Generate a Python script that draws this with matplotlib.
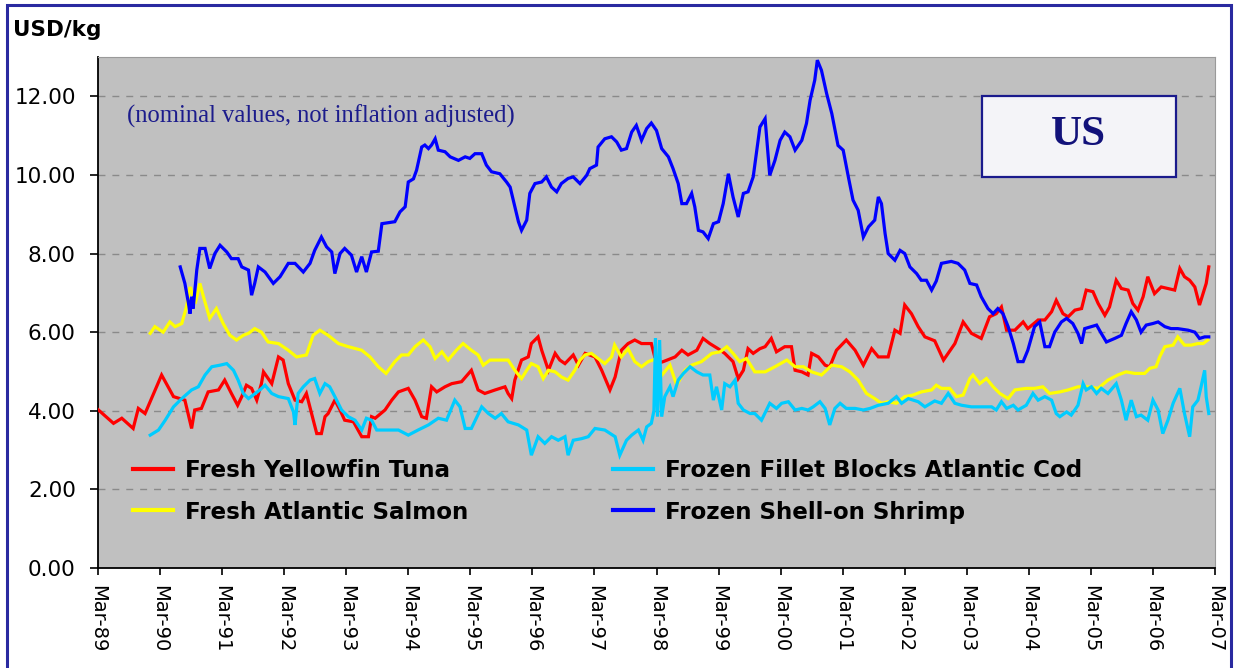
import matplotlib
matplotlib.use("Agg")
import matplotlib.pyplot as plt
from matplotlib.patches import Rectangle
from matplotlib.lines import Line2D

# ---- data (x = months after Mar-89) ----
tick_labels = ["Mar-89", "Mar-90", "Mar-91", "Mar-92", "Mar-93", "Mar-94", "Mar-95",
               "Mar-96", "Mar-97", "Mar-98", "Mar-99", "Mar-00", "Mar-01", "Mar-02",
               "Mar-03", "Mar-04", "Mar-05", "Mar-06", "Mar-07"]
y_ticks = [0, 2, 4, 6, 8, 10, 12]

tuna_m = [0, 3, 4.6, 6.8, 7.8, 9.1, 12.3, 14.6, 16.8, 18.1, 18.7, 20, 21.3, 23.3, 24.5, 25.8, 27, 27.8,
          28.7, 29.7, 30.7, 31.6, 32, 33.6, 34.9, 35.8, 36.8, 38.1, 39.4, 40.3, 41.3, 42.3, 43.2, 43.9,
          44.5, 45.8, 46.8, 47.7, 49.4, 51, 52.3, 52.9, 53.6, 55.5, 56.8, 58.1, 60, 61.3, 62.6, 63.5,
          64.5, 65.5, 67.1, 68.4, 70.3, 72.2, 73.5, 74.8, 76.8, 78.7, 79.3, 80, 80.6, 81.9, 83.2, 83.8,
          85.1, 85.8, 87.1, 88.4, 89.3, 90.3, 91.9, 92.9, 94.2, 96.1, 97.4, 99, 100, 101.2, 102.5, 103.8,
          105.1, 107, 108, 109.3, 111.6, 112.9, 114.1, 115.8, 117, 118.3, 119.9, 121.2, 122.8, 123.8,
          124.8, 125.7, 126.7, 128, 129, 130.2, 131.2, 132.8, 134.1, 134.8, 136.1, 137.3, 138, 139.3,
          140.6, 141.5, 142.8, 144.7, 146.4, 148, 149.6, 150.9, 152.8, 154.1, 155.1, 156, 157.3, 158.6,
          159.9, 161.8, 163.5, 165.7, 167.3, 168.9, 170.8, 172.4, 173.7, 174.7, 175.7, 177.3, 178.9,
          179.8, 181.8, 183.1, 184.4, 185.3, 186.6, 187.6, 188.9, 190.2, 191.1, 192.4, 193.4, 194.7,
          195.6, 196.9, 197.9, 199.2, 200.1, 201.1, 202.1, 203, 204.3, 205.6, 206.9, 208.2, 209.2,
          210.1, 211.1, 212.1, 213, 214.3, 214.8]
tuna_v = [4.03, 3.68, 3.81, 3.55, 4.06, 3.93, 4.91, 4.36, 4.27, 3.55, 4.02, 4.06, 4.48, 4.53, 4.78, 4.44,
          4.14, 4.36, 4.65, 4.57, 4.27, 4.69, 4.99, 4.69, 5.37, 5.29, 4.69, 4.27, 4.23, 4.44, 3.93, 3.42,
          3.42, 3.85, 3.93, 4.27, 4.02, 3.76, 3.72, 3.34, 3.34, 3.85, 3.81, 4.02, 4.27, 4.48, 4.57, 4.27,
          3.85, 3.81, 4.61, 4.48, 4.61, 4.69, 4.74, 5.03, 4.53, 4.44, 4.53, 4.61, 4.44, 4.31, 4.78, 5.29,
          5.37, 5.71, 5.88, 5.54, 5.03, 5.46, 5.29, 5.2, 5.42, 5.16, 5.46, 5.37, 5.03, 4.53, 4.86, 5.54,
          5.71, 5.8, 5.71, 5.71, 5.2, 5.25, 5.37, 5.54, 5.42, 5.54, 5.84, 5.71, 5.58, 5.46, 5.25, 4.82,
          5.03, 5.58, 5.46, 5.58, 5.63, 5.84, 5.5, 5.63, 5.63, 5.03, 4.99, 4.91, 5.46, 5.37, 5.16, 5.12,
          5.54, 5.8, 5.54, 5.16, 5.58, 5.37, 5.37, 6.05, 5.97, 6.69, 6.47, 6.14, 5.88, 5.78, 5.29, 5.71,
          6.26, 5.97, 5.84, 6.39, 6.47, 6.64, 6.05, 6.05, 6.26, 6.09, 6.31, 6.31, 6.52, 6.81, 6.47, 6.39,
          6.56, 6.6, 7.07, 7.03, 6.73, 6.43, 6.64, 7.32, 7.11, 7.07, 6.73, 6.56, 6.9, 7.41, 6.98, 7.15,
          7.11, 7.07, 7.62, 7.41, 7.32, 7.15, 6.69, 7.24, 7.66]

salmon_m = [10.1, 11, 12.6, 13.9, 14.9, 16.2, 17.1, 17.8, 18.8, 19.7, 20.4, 21.6, 22.9, 24.2, 25.5, 26.8,
            28.1, 29.1, 30.3, 31.6, 32.9, 34.9, 36.8, 38.4, 40.3, 41.6, 42.9, 44.5, 46.5, 48.4, 51, 52.6,
            54.2, 55.7, 57.4, 58.7, 60, 61.3, 62.9, 64.2, 65.2, 66.5, 67.7, 69.3, 70.6, 72.2, 73.5, 74.5,
            75.8, 77.4, 79.3, 80.6, 81.9, 82.9, 83.8, 85.1, 86.1, 87.1, 88.4, 89.6, 90.9, 92.2, 93.2, 94.2,
            95.4, 96.7, 98, 99.3, 99.9, 101.2, 102.5, 103.8, 105.1, 106.4, 107.7, 109, 110.6, 111.9, 113.5,
            114.8, 116.7, 118.7, 120.3, 121.6, 122.8, 124.1, 125.4, 127, 129, 130.9, 133.2, 134.8, 136.4,
            138, 139.9, 141.9, 143.8, 145.4, 147, 148.6, 150.2, 151.5, 152.8, 154.4, 156, 157.6, 159.2,
            161.2, 162.1, 163.1, 164.7, 166, 167.3, 168.6, 169.2, 170.5, 171.8, 173.1, 174.4, 176, 177.3,
            179.5, 181.1, 182.7, 184, 186, 187.6, 189.5, 191.4, 193.4, 195.3, 197.2, 198.8, 200.5, 202.4,
            203.4, 204.6, 205.3, 206.3, 207.9, 208.8, 210.1, 211.4, 212.7, 213.7, 214.6]
salmon_v = [5.97, 6.14, 6.0, 6.26, 6.14, 6.22, 6.64, 7.15, 6.73, 7.24, 6.9, 6.35, 6.6, 6.22, 5.92, 5.8,
            5.92, 5.97, 6.09, 6.0, 5.75, 5.71, 5.54, 5.37, 5.42, 5.92, 6.05, 5.92, 5.71, 5.63, 5.54, 5.37,
            5.12, 4.95, 5.25, 5.42, 5.42, 5.63, 5.8, 5.63, 5.33, 5.5, 5.29, 5.54, 5.71, 5.54, 5.42, 5.16,
            5.29, 5.29, 5.29, 5.03, 4.82, 5.03, 5.2, 5.12, 4.82, 5.03, 4.99, 4.86, 4.78, 5.03, 5.29, 5.42,
            5.46, 5.33, 5.2, 5.37, 5.67, 5.37, 5.58, 5.25, 5.12, 5.25, 5.31, 4.9, 5.16, 4.65, 5.03,
            5.16, 5.25, 5.46, 5.5, 5.63, 5.46, 5.25, 5.33, 4.99, 4.99, 5.12, 5.29, 5.12, 5.12,
            4.99, 4.91, 5.16, 5.12, 4.99, 4.78, 4.44, 4.31, 4.19, 4.23, 4.19, 4.36, 4.4, 4.48,
            4.53, 4.65, 4.57, 4.57, 4.36, 4.4, 4.82, 4.91, 4.69, 4.82, 4.61, 4.44, 4.31, 4.53,
            4.57, 4.57, 4.61, 4.44, 4.48, 4.53, 4.61, 4.61, 4.57, 4.78, 4.91, 4.99, 4.95, 4.95,
            5.08, 5.12, 5.37, 5.63, 5.67, 5.88, 5.67, 5.67, 5.71, 5.71, 5.8]

cod_m = [10.1, 11.7, 13, 14.6, 16.2, 18.1, 19.4, 20.7, 22, 23.6, 24.9, 26.2, 27.1, 28.1, 29.1, 30, 31.3,
         32.3, 33.6, 34.9, 36.8, 37.8, 38.1, 38.7, 39.7, 41, 41.9, 42.9, 43.9, 44.8, 45.8, 47.1, 48.4,
         49.7, 51, 51.9, 52.9, 53.9, 56.1, 58.1, 60, 61.9, 63.9, 65.8, 67.4, 69, 70, 71, 72.2, 74.2,
         75.5, 76.8, 78, 79.3, 81.3, 82.9, 83.8, 85.1, 86.4, 87.7, 89, 90.3, 90.9, 91.9, 93.5, 94.8,
         96.1, 98, 100, 100.9, 102.2, 103.2, 104.5, 105.4, 106.1, 107, 107.5, 107.8, 108.2, 108.6, 109.0,
         109.6, 110.6, 111.2, 112.2, 113.2, 114.5, 115.8, 117, 118.3, 119, 119.6, 120.6, 121.2, 122.2,
         123.2, 123.8, 124.8, 126.1, 127, 128.3, 129.9, 131.2, 132.2, 133.5, 134.8, 136.1, 137.3, 138.3,
         139.6, 140.6, 141.5, 142.5, 143.5, 144.7, 146.4, 148, 149.3, 150.9, 152.8, 154.4, 155.4, 156.7,
         158.6, 159.9, 161.8, 163.1, 164.4, 165.7, 167, 168.9, 170.8, 172.8, 173.7, 174.7, 175.7, 177,
         177.9, 179.5, 180.8, 181.8, 183.1, 184.4, 185.3, 186, 187.3, 188.2, 189.5, 190.5, 191.1, 192.1,
         193.1, 194, 195.3, 196.9, 197.9, 198.8, 199.8, 200.8, 201.7, 203, 204, 205, 205.9, 206.9, 207.9,
         209.2, 210.1, 211.1, 211.7, 212.7, 213.3, 214, 214.3, 214.8]
cod_v = [3.38, 3.51, 3.76, 4.1, 4.31, 4.53, 4.61, 4.91, 5.12, 5.16, 5.2, 5.03, 4.78, 4.44, 4.31, 4.4, 4.53,
         4.65, 4.44, 4.36, 4.31, 3.97, 3.64, 4.44, 4.61, 4.78, 4.82, 4.44, 4.69, 4.61, 4.36, 4.02, 3.85,
         3.76, 3.51, 3.81, 3.76, 3.51, 3.51, 3.51, 3.38, 3.51, 3.64, 3.81, 3.76, 4.27, 4.1, 3.55, 3.55, 4.1,
         3.93, 3.81, 3.93, 3.72, 3.64, 3.51, 2.87, 3.34, 3.17, 3.34, 3.25, 3.34, 2.87, 3.25, 3.29, 3.34,
         3.55, 3.51, 3.34, 2.87, 3.25, 3.38, 3.51, 3.25, 3.59, 3.68, 4.0, 5.85, 3.85, 5.8, 3.85,
         4.36, 4.61, 4.36, 4.78, 4.95, 5.12, 4.99, 4.91, 4.91, 4.27, 4.61, 4.02, 4.69, 4.61,
         4.78, 4.19, 4.02, 3.93, 3.93, 3.76, 4.19, 4.06, 4.19, 4.23, 4.02, 4.06, 4.02, 4.1,
         4.23, 4.06, 3.64, 4.06, 4.19, 4.06, 4.06, 4.02, 4.06, 4.14, 4.19, 4.36, 4.19, 4.31,
         4.23, 4.1, 4.25, 4.19, 4.44, 4.19, 4.14, 4.1, 4.1, 4.1, 4.02, 4.23, 4.06, 4.14,
         4.02, 4.14, 4.44, 4.27, 4.36, 4.27, 3.93, 3.85, 3.97, 3.89, 4.14, 4.69, 4.53, 4.61,
         4.44, 4.57, 4.44, 4.69, 4.27, 3.76, 4.27, 3.85, 3.89, 3.76, 4.27, 4.02, 3.42, 3.76, 4.19,
         4.57, 3.93, 3.34, 4.1, 4.27, 4.61, 5.03, 4.36, 3.93]

shrimp_m = [15.9, 16.8, 17.5, 17.8, 18.1, 18.4, 19.1, 19.7, 20.7, 21.6, 22.6, 23.6, 24.9, 25.8, 27.1, 27.8,
            29.1, 29.7, 30.3, 31, 32.3, 33.9, 35.2, 36.8, 38.1, 39.7, 41, 41.9, 43.2, 44.2, 45.2, 45.8,
            46.8, 47.7, 49, 50, 51, 51.9, 52.9, 54.2, 54.9, 57.4, 58.4, 59.4, 60, 61, 61.6, 62.6, 63.2,
            63.9, 64.5, 65.2, 65.8, 67.1, 68.1, 69.7, 71, 71.9, 72.9, 74.2, 75.1, 76.1, 77.7, 79, 79.7,
            80.6, 81.3, 81.9, 82.9, 83.5, 84.5, 85.8, 86.7, 87.7, 88.7, 89.6, 90.9, 91.9, 93.2, 94.5,
            95.1, 96.4, 96.7, 98, 99.3, 100.3, 101.2, 102.2, 103.2, 104.1, 105.1, 106.1, 107, 108, 109,
            110.3, 111.2, 112.2, 112.9, 113.8, 114.8, 115.4, 116.1, 117, 118, 119, 120, 120.9, 121.9,
            122.8, 123.8, 124.8, 125.7, 126.7, 127.4, 128, 129, 129.9, 130.9, 131.9, 132.8, 133.8, 134.8,
            136.1, 137, 137.7, 138.6, 139.1, 139.9, 140.9, 141.9, 143.1, 144.1, 145.1, 146, 147, 148, 149,
            150.2, 150.9, 151.5, 152.2, 152.8, 154.1, 155.1, 156, 157, 158.3, 159.2, 160.2, 161.2, 162.1,
            163.1, 165, 166.3, 167.6, 168.6, 169.9, 170.8, 172.1, 173.1, 174, 175, 176, 177, 177.9, 178.9,
            179.8, 181.1, 182.1, 183.1, 184, 185, 186.3, 187.3, 188.5, 189.5, 190.2, 190.8, 192.1, 193.1,
            194, 195, 196.6, 197.9, 198.8, 199.8, 200.8, 201.7, 202.7, 204, 205, 206.3, 207.5, 208.8,
            210.8, 212.1, 213, 214, 214.8]
shrimp_v = [7.66, 7.24, 6.73, 6.47, 6.9, 6.6, 7.58, 8.13, 8.13, 7.62, 8.0, 8.21, 8.04, 7.87, 7.87, 7.66,
            7.58, 6.94, 7.24, 7.66, 7.53, 7.24, 7.41, 7.75, 7.75, 7.53, 7.75, 8.08, 8.42, 8.17, 8.04, 7.49,
            8.0, 8.13, 7.96, 7.53, 7.92, 7.53, 8.04, 8.06, 8.76, 8.81, 9.06, 9.19, 9.82, 9.9, 10.12, 10.71,
            10.76, 10.67, 10.76, 10.92, 10.63, 10.59, 10.46, 10.37, 10.46, 10.42, 10.54, 10.54, 10.25,
            10.08, 10.03, 9.82, 9.69, 9.19, 8.81, 8.59, 8.85, 9.53, 9.78, 9.82, 9.95, 9.69, 9.57, 9.78,
            9.91, 9.95, 9.78, 9.99, 10.16, 10.25, 10.71, 10.92, 10.97, 10.84, 10.63, 10.67, 11.09, 11.26,
            10.88, 11.18, 11.32, 11.13, 10.67, 10.46, 10.16, 9.78, 9.27, 9.27, 9.53, 9.19, 8.59, 8.55,
            8.38, 8.76, 8.81, 9.27, 10.03, 9.44, 8.93, 9.53, 9.57, 9.95, 10.63, 11.22, 11.43, 9.99, 10.37,
            10.88, 11.09, 10.97, 10.63, 10.88, 11.31, 11.9, 12.41, 12.92, 12.66, 12.07, 11.56, 10.75,
            10.63, 9.95, 9.36, 9.1, 8.42, 8.68, 8.85, 9.44, 9.27, 8.51, 8.0, 7.83, 8.08, 8.0, 7.66, 7.49,
            7.32, 7.32, 7.07, 7.3, 7.75, 7.8, 7.75, 7.58, 7.24, 7.2, 6.9, 6.6, 6.47, 6.6, 6.47, 6.14, 5.71,
            5.25, 5.25, 5.54, 6.14, 6.26, 5.63, 5.63, 6.0, 6.26, 6.35, 6.22, 5.97, 5.71, 6.09, 6.14, 6.18,
            5.97, 5.75, 5.84, 5.92, 6.22, 6.52, 6.31, 6.0, 6.18, 6.22, 6.26, 6.14, 6.09, 6.09, 6.05, 6.0,
            5.84, 5.88, 5.88]

series_names = ["Fresh Yellowfin Tuna", "Fresh Atlantic Salmon",
                "Frozen Fillet Blocks Atlantic Cod", "Frozen Shell-on Shrimp"]
colors = ["#FF0000", "#FFFF00", "#00CCFF", "#0000FF"]

# ---- figure ----
fig = plt.figure(figsize=(12.36, 6.68), dpi=100)
fig.patch.set_facecolor("white")
ax = fig.add_axes([98 / 1236, 100 / 668, 1117 / 1236, 511 / 668])
ax.set_facecolor("#C0C0C0")

lw = 2.3
ax.plot(tuna_m, tuna_v, color=colors[0], lw=lw, solid_joinstyle="miter", zorder=3)
ax.plot(salmon_m, salmon_v, color=colors[1], lw=lw, solid_joinstyle="miter", zorder=3)
ax.plot(cod_m, cod_v, color=colors[2], lw=lw, solid_joinstyle="miter", zorder=3)
ax.plot(shrimp_m, shrimp_v, color=colors[3], lw=lw, solid_joinstyle="miter", zorder=4)

ax.set_xlim(0, 216)
ax.set_ylim(0, 13)
ax.set_xticks([12 * i for i in range(len(tick_labels))])
ax.set_xticklabels(tick_labels, rotation=270, fontsize=14, family="DejaVu Sans")
ax.set_yticks(y_ticks)
ax.set_yticklabels([f"{v:.2f}" for v in y_ticks], fontsize=15.5, family="DejaVu Sans")
ax.tick_params(axis="y", length=6, width=1.2, pad=10, color="black")
ax.tick_params(axis="x", length=5, width=1.2, pad=7, color="black")

for y in y_ticks[1:]:
    ax.axhline(y, color="#8a8a8a", lw=1.0, dashes=(5, 5), zorder=1)

ax.spines["left"].set_color("black")
ax.spines["left"].set_linewidth(1.3)
ax.spines["bottom"].set_color("black")
ax.spines["bottom"].set_linewidth(1.3)
ax.spines["top"].set_color("#9a9a9a")
ax.spines["right"].set_color("#9a9a9a")

# texts
fig.text(13 / 1236, 1 - 30 / 668, "USD/kg", fontsize=15.5, fontweight="bold",
         family="DejaVu Sans", va="center", ha="left")
ax.text(0.026, 0.883, "(nominal values, not inflation adjusted)", transform=ax.transAxes,
        fontsize=17.7, family="Liberation Serif", color="#1c1c8c", va="center", ha="left")

box = Rectangle((0.791, 0.765), 0.174, 0.159, transform=ax.transAxes,
                facecolor="#F4F4F8", edgecolor="#1a1a8c", lw=1.6, zorder=5)
ax.add_patch(box)
ax.text(0.878, 0.847, "US", transform=ax.transAxes, fontsize=31, fontweight="bold",
        family="Liberation Serif", color="#12127a", ha="center", va="center", zorder=6)

# legends
leg_font = {"family": "DejaVu Sans", "weight": "bold", "size": 16.6}
leg_kw = dict(frameon=False, handlelength=1.75, handletextpad=0.5,
              labelspacing=0.82, borderpad=0, borderaxespad=0, loc="upper left", prop=leg_font)
h1 = [Line2D([], [], color=colors[0], lw=3), Line2D([], [], color=colors[1], lw=3)]
h2 = [Line2D([], [], color=colors[2], lw=3), Line2D([], [], color=colors[3], lw=3)]
leg1 = ax.legend(h1, series_names[:2], bbox_to_anchor=(0.031, 0.214), **leg_kw)
ax.add_artist(leg1)
leg2 = ax.legend(h2, series_names[2:], bbox_to_anchor=(0.461, 0.214), **leg_kw)

# figure border
border = Rectangle((7 / 1236, -0.05), 1224 / 1236, 1.05 - 5 / 668, transform=fig.transFigure,
                   fill=False, edgecolor="#2a2aa0", lw=2.2)
fig.patches.append(border)

fig.savefig("out.png", dpi=100)
